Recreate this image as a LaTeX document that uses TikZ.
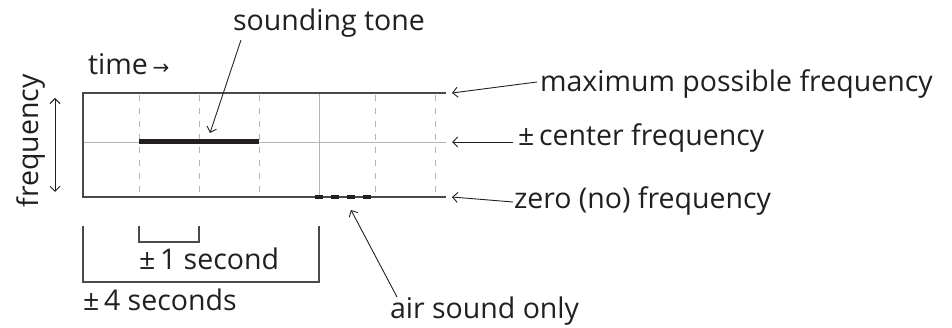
\documentclass[tikz,border=0pt]{standalone}
\usepackage{fontspec}
\setmainfont{Open Sans}
\newfontfamily\symfont{DejaVu Sans}
\usetikzlibrary{arrows.meta}
\definecolor{ink}{HTML}{231F20}
\definecolor{frame}{HTML}{4A4A4A}
\definecolor{grid}{HTML}{B4B4B4}
\tikzset{
  lbl/.style={inner sep=0pt, outer sep=0pt, text=ink, font=\fontsize{28.5}{32}\selectfont},
  frameline/.style={draw=frame, line width=1.1pt},
  gridsolid/.style={draw=grid, line width=0.9pt},
  griddash/.style={draw=grid, line width=0.9pt, dash pattern=on 6pt off 7pt, dash phase=-2pt},
  ptr/.style={draw=ink, line width=0.9pt, -{Straight Barb[length=5pt,width=10pt]}},
  brk/.style={draw=frame, line width=1.1pt},
}
\begin{document}
\begin{tikzpicture}[x=1pt,y=-1pt]
\useasboundingbox (0,0) rectangle (952,328);
% grid
\foreach \gx in {139,199,259,375,435} {
  \draw[griddash] (\gx,93) -- (\gx,197);
}
\draw[gridsolid] (319,93) -- (319,197);
\draw[gridsolid] (83,142) -- (446,142);
% frame
\draw[frameline] (446,93) -- (83,93) -- (83,197) -- (446,197);
% sounding tone bar
\draw[draw=ink, line width=5pt] (139,142) -- (259,142);
% air sound only squares
\draw[draw=ink, line width=4.5pt, dash pattern=on 7.5pt off 8.5pt] (315,197) -- (372,197);

% labels
\node[lbl, anchor=base] (sound) at (329,31) {sounding tone};
\node[lbl, anchor=base west] (time) at (88,75) {time\,{\symfont\fontsize{20}{20}\selectfont →}};
\node[lbl, anchor=base, rotate=90] (freq) at (38,141) {frequency};
\node[lbl, anchor=base west] (maxl) at (540,92) {maximum possible frequency};
\node[lbl, anchor=base west] (cenl) at (518,146) {±\,center frequency};
\node[lbl, anchor=base west] (zerl) at (514,209) {zero (no) frequency};
\node[lbl, anchor=base west] (onesec) at (139,270) {±\,1 second};
\node[lbl, anchor=base west] (foursec) at (83,310) {±\,4 seconds};
\node[lbl, anchor=base west] (air) at (390,318) {air sound only};

% connector points
\coordinate (sndA) at (241,40);
\coordinate (sndB) at (210,133);
\coordinate (maxA) at (537,82);
\coordinate (maxB) at (452,93);
\coordinate (cenA) at (513,142);
\coordinate (cenB) at (452,142);
\coordinate (zerA) at (513,202);
\coordinate (zerB) at (452,197);
\coordinate (airA) at (397,297);
\coordinate (airB) at (351,210);
\coordinate (fqA) at (55,98);
\coordinate (fqB) at (55,192);

\draw[ptr] (sndA) -- (sndB);
\draw[ptr] (maxA) -- (maxB);
\draw[ptr] (cenA) -- (cenB);
\draw[ptr] (zerA) -- (zerB);
\draw[ptr] (airA) -- (airB);
\draw[draw=ink, line width=0.9pt, {Straight Barb[length=5pt,width=10pt]}-{Straight Barb[length=5pt,width=10pt]}] (fqA) -- (fqB);

% brackets
\coordinate (b1a) at (139,226);
\coordinate (b1b) at (199,226);
\coordinate (b2a) at (83,226);
\coordinate (b2b) at (319,226);
\draw[brk] (b1a) -- ++(0,16) -| (b1b);
\draw[brk] (b2a) -- ++(0,56) -| (b2b);
\end{tikzpicture}
\end{document}
